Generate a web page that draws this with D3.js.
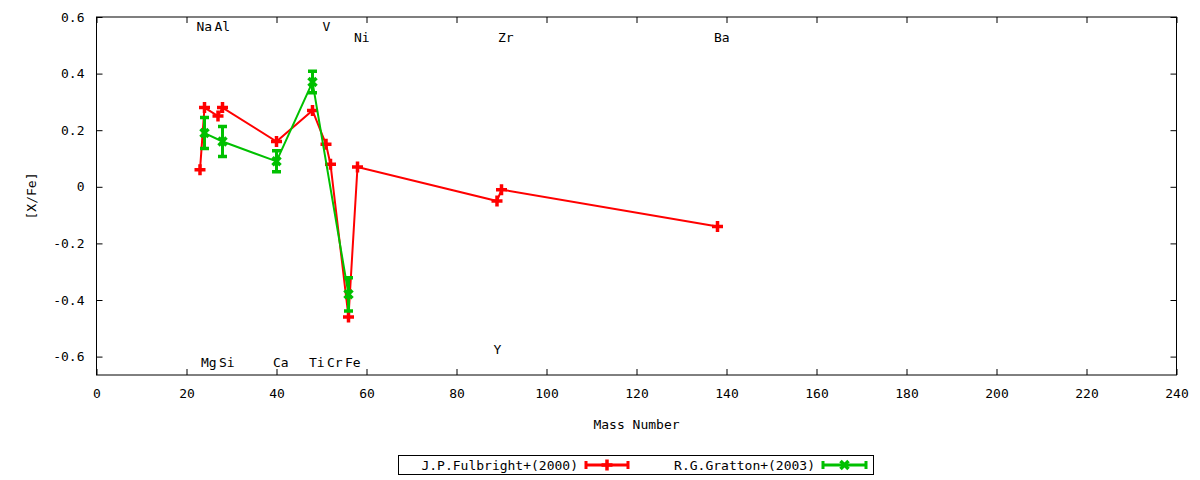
<!DOCTYPE html>
<html><head><meta charset="utf-8">
<script src="https://cdn.jsdelivr.net/npm/d3@7"></script>
<style>
body{margin:0;background:#fff}
text{font-family:"DejaVu Sans Mono",monospace;font-size:13px;fill:#000}
</style>
</head><body>
<svg id="c" width="1200" height="480"></svg>
<script>
// ---- data ----
const fulbrightMass = [23, 24, 27, 28, 40, 48, 51, 52, 56, 58, 89, 90, 138];
const fulbrightXFe  = [0.06, 0.28, 0.25, 0.28, 0.16, 0.27, 0.15, 0.08, -0.46, 0.07, -0.05, -0.01, -0.14];
const grattonMass = [24, 28, 40, 48, 56];
const grattonXFe  = [0.19, 0.16, 0.09, 0.37, -0.38];
const grattonErr  = [0.055, 0.053, 0.037, 0.038, 0.059];
const labelElements = ["Na", "Al", "V", "Ni", "Zr", "Ba", "Mg", "Si", "Ca", "Ti", "Cr", "Fe", "Y"];
const labelMass     = [22, 26, 50, 57, 89, 137, 23, 27, 39, 47, 51, 55, 88];
const labelLevel    = [0.565, 0.565, 0.565, 0.528, 0.528, 0.528, -0.62, -0.62, -0.62, -0.62, -0.62, -0.62, -0.574];
const xTicks = [0, 20, 40, 60, 80, 100, 120, 140, 160, 180, 200, 220, 240];
const yTicks = [-0.6, -0.4, -0.2, 0, 0.2, 0.4, 0.6];
const seriesNames = ["J.P.Fulbright+(2000)", "R.G.Gratton+(2003)"];
const xTitle = "Mass Number", yTitle = "[X/Fe]";

// ---- layout ----
const L = 96.5, R = 1176.5, T = 17, B = 375;
const RED = "#ff0000", GREEN = "#00c000";
const svg = d3.select("#c");
const x = d3.scaleLinear().domain([0, 240]).range([L, R]);
const y = d3.scaleLinear().domain([-0.665, 0.6]).range([B, T]);
const fmt = d => d === 0 ? "0" : d.toFixed(1);

// axes with inward ticks
const ax = svg.append("g");
ax.append("g").attr("transform", `translate(0,${B})`)
  .call(d3.axisBottom(x).tickValues(xTicks).tickSize(-6).tickPadding(14).tickFormat(d3.format("d")));
ax.append("g").attr("transform", `translate(0,${T})`)
  .call(d3.axisTop(x).tickValues(xTicks).tickSize(-6).tickFormat(""));
ax.append("g").attr("transform", `translate(${L},0)`)
  .call(d3.axisLeft(y).tickValues(yTicks).tickSize(-6).tickPadding(12).tickFormat(fmt));
ax.append("g").attr("transform", `translate(${R},0)`)
  .call(d3.axisRight(y).tickValues(yTicks).tickSize(-6).tickFormat(""));
ax.selectAll(".domain").remove();
ax.selectAll(".tick line").attr("stroke", "#000").attr("stroke-width", 1);
ax.selectAll("text").attr("font-family", "DejaVu Sans Mono").attr("font-size", 13).attr("fill", "#000");
svg.append("rect").attr("x", L).attr("y", T).attr("width", R - L).attr("height", B - T)
  .attr("fill", "none").attr("stroke", "#000").attr("stroke-width", 1);

// titles
svg.append("text").attr("x", (L + R) / 2).attr("y", 429).attr("text-anchor", "middle").text(xTitle);
svg.append("text").attr("transform", `translate(36,${(T + B) / 2}) rotate(-90)`)
  .attr("text-anchor", "middle").text(yTitle);

// element labels
labelElements.forEach((el, i) => {
  svg.append("text").attr("x", x(labelMass[i]) + 1).attr("y", y(labelLevel[i])).attr("dy", "0.35em").text(el);
});

// markers
function plus(g, cx, cy, color) {
  g.append("path").attr("d", `M${cx - 5.5},${cy}H${cx + 5.5}M${cx},${cy - 5.5}V${cy + 5.5}`)
    .attr("stroke", color).attr("stroke-width", 3.5).attr("fill", "none");
}
function cross(g, cx, cy, color) {
  g.append("path").attr("d", `M${cx - 4},${cy - 4}L${cx + 4},${cy + 4}M${cx - 4},${cy + 4}L${cx + 4},${cy - 4}`)
    .attr("stroke", color).attr("stroke-width", 3.5).attr("fill", "none");
}

// Fulbright series
const line = d3.line().x(d => x(d[0])).y(d => y(d[1]));
const gR = svg.append("g");
gR.append("path").datum(fulbrightMass.map((m, i) => [m, fulbrightXFe[i]]))
  .attr("d", line).attr("fill", "none").attr("stroke", RED).attr("stroke-width", 2);
fulbrightMass.forEach((m, i) => plus(gR, x(m), y(fulbrightXFe[i]), RED));

// Gratton series
const gG = svg.append("g");
gG.append("path").datum(grattonMass.map((m, i) => [m, grattonXFe[i]]))
  .attr("d", line).attr("fill", "none").attr("stroke", GREEN).attr("stroke-width", 2);
grattonMass.forEach((m, i) => {
  const cx = x(m), y0 = y(grattonXFe[i] - grattonErr[i]), y1 = y(grattonXFe[i] + grattonErr[i]);
  gG.append("path").attr("d", `M${cx},${y0}V${y1}`).attr("stroke", GREEN).attr("stroke-width", 3);
  gG.append("path").attr("d", `M${cx - 4.5},${y0}H${cx + 4.5}M${cx - 4.5},${y1}H${cx + 4.5}`)
    .attr("stroke", GREEN).attr("stroke-width", 3.5);
  cross(gG, cx, y(grattonXFe[i]), GREEN);
});

// legend
const lg = svg.append("g");
lg.append("rect").attr("x", 398.5).attr("y", 455.5).attr("width", 475).attr("height", 19)
  .attr("fill", "none").attr("stroke", "#000").attr("stroke-width", 1);
const entries = [
  {name: seriesNames[0], color: RED, tx: 578, x0: 586, x1: 628, mk: plus},
  {name: seriesNames[1], color: GREEN, tx: 815, x0: 823, x1: 866, mk: cross}
];
entries.forEach(e => {
  const ly = 465;
  lg.append("text").attr("x", e.tx).attr("y", ly).attr("dy", "0.35em").attr("text-anchor", "end").text(e.name);
  lg.append("path").attr("d", `M${e.x0},${ly}H${e.x1}`).attr("stroke", e.color).attr("stroke-width", 3);
  lg.append("path").attr("d", `M${e.x0},${ly - 4}V${ly + 4}M${e.x1},${ly - 4}V${ly + 4}`)
    .attr("stroke", e.color).attr("stroke-width", 3);
  e.mk(lg, (e.x0 + e.x1) / 2, ly, e.color);
});
</script>
</body></html>
